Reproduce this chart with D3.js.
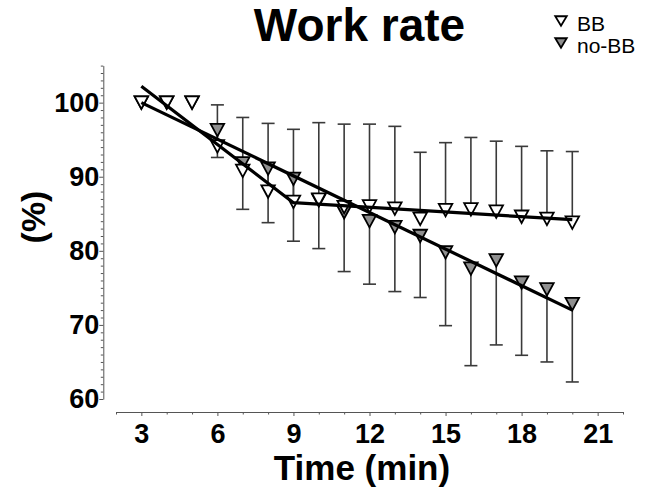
<!DOCTYPE html>
<html>
<head>
<meta charset="utf-8">
<script src="https://cdn.jsdelivr.net/npm/d3@7"></script>
<style>
  html, body { margin: 0; padding: 0; background: #fff; }
  svg { display: block; }
  text { font-family: "Liberation Sans", Arial, Helvetica, sans-serif; }
</style>
</head>
<body>
<svg id="chart" width="652" height="490"></svg>
<script>
// ---- data ----
const times = [3,4,5,6,7,8,9,10,11,12,13,14,15,16,17,18,19,20];
const bbMean = [100,100,100,94.1,90.8,88.0,86.6,86.9,85.9,86.0,85.7,84.3,85.5,85.6,85.3,84.6,84.3,83.8];
const bbUpper = [null,null,null,99.7,98.0,97.2,96.4,97.3,97.1,97.1,96.8,93.3,94.6,95.3,94.8,94.1,93.5,93.4];
const noBbMean = [100,100,100,96.3,91.8,91.1,89.7,86.8,85.2,84.0,83.2,82.0,79.8,77.6,78.7,75.7,74.8,72.8];
const noBbLower = [null,null,null,92.6,85.6,83.8,81.3,80.3,77.2,75.5,74.5,73.7,69.9,64.5,67.3,65.9,65.0,62.3];
const bbFitX = [3,9,20];
const bbFitY = [102.2,86.5,84.2];
const noBbFitX = [3,20];
const noBbFitY = [100.0,72.0];
const xTicks = [3,6,9,12,15,18,21];
const yTicks = [60,70,80,90,100];
const seriesNames = ["BB","no-BB"];
const seriesFills = ["#ffffff","#8f8f8f"];

// ---- scales ----
const svg = d3.select("#chart");
const x = d3.scaleLinear().domain([2,22]).range([116,623]);
const y = d3.scaleLinear().domain([60,105]).range([399,65.6]);
const yAxisX = 103.3, xAxisY = 412;

// ---- axes ----
const axisColor = "#555";
const yMinor = d3.range(60,106,1).filter(v => v % 10 !== 0);
const gyMinor = svg.append("g").attr("transform",`translate(${yAxisX},0)`)
  .call(d3.axisLeft(y).tickValues(yMinor).tickSize(2.5).tickFormat(""));
gyMinor.select(".domain").remove();
gyMinor.selectAll("line").attr("stroke",axisColor);
const gy = svg.append("g").attr("transform",`translate(${yAxisX},0)`)
  .call(d3.axisLeft(y).tickValues(yTicks).tickSizeInner(4).tickSizeOuter(0).tickPadding(0).tickFormat(d3.format("d")));
gy.select(".domain").attr("stroke",axisColor);
gy.selectAll("line").attr("stroke",axisColor);
gy.selectAll("text").attr("font-size",27).attr("font-weight","bold").attr("fill","#000")
  .attr("font-family","'Liberation Sans', Arial, sans-serif");

const xMinor = d3.range(2,23,1).filter(v => v % 3 !== 0);
const gxMinor = svg.append("g").attr("transform",`translate(0,${xAxisY})`)
  .call(d3.axisBottom(x).tickValues(xMinor).tickSize(2.5).tickFormat(""));
gxMinor.select(".domain").remove();
gxMinor.selectAll("line").attr("stroke",axisColor);
const gx = svg.append("g").attr("transform",`translate(0,${xAxisY})`)
  .call(d3.axisBottom(x).tickValues(xTicks).tickSizeInner(4).tickSizeOuter(0).tickPadding(8).tickFormat(d3.format("d")));
gx.select(".domain").attr("stroke",axisColor);
gx.selectAll("line").attr("stroke",axisColor);
gx.selectAll("text").attr("font-size",27).attr("font-weight","bold").attr("fill","#000")
  .attr("font-family","'Liberation Sans', Arial, sans-serif");

// ---- error bars ----
const capW = 6.5;
const errColor = "#3a3a3a";
function drawErr(means, ends) {
  const g = svg.append("g");
  times.forEach((t,i) => {
    if (ends[i] == null) return;
    g.append("line").attr("x1",x(t)).attr("x2",x(t)).attr("y1",y(means[i])).attr("y2",y(ends[i]))
      .attr("stroke",errColor).attr("stroke-width",1.6);
    g.append("line").attr("x1",x(t)-capW).attr("x2",x(t)+capW).attr("y1",y(ends[i])).attr("y2",y(ends[i]))
      .attr("stroke",errColor).attr("stroke-width",1.6);
  });
}
drawErr(bbMean, bbUpper);
drawErr(noBbMean, noBbLower);

// ---- markers ----
function tri(cx, cy, w, h) {
  return `M${cx-w/2},${cy-h/2}L${cx+w/2},${cy-h/2}L${cx},${cy+h/2}Z`;
}
function drawMarkers(means, fill) {
  svg.append("g").selectAll("path").data(times.map((t,i)=>[t,means[i]])).join("path")
    .attr("d", d => tri(x(d[0]), y(d[1]), 13.5, 12.5))
    .attr("fill", fill).attr("stroke","#000").attr("stroke-width",1.8).attr("stroke-linejoin","miter");
}
drawMarkers(noBbMean, seriesFills[1]);
drawMarkers(bbMean, seriesFills[0]);

// ---- fit lines ----
const line = d3.line().x(d=>x(d[0])).y(d=>y(d[1]));
svg.append("path").datum(bbFitX.map((v,i)=>[v,bbFitY[i]])).attr("d",line)
  .attr("fill","none").attr("stroke","#000").attr("stroke-width",3.2).attr("stroke-linejoin","round");
svg.append("path").datum(noBbFitX.map((v,i)=>[v,noBbFitY[i]])).attr("d",line)
  .attr("fill","none").attr("stroke","#000").attr("stroke-width",3.2);

// ---- title & labels ----
svg.append("text").attr("x",359.5).attr("y",41).attr("text-anchor","middle")
  .attr("font-size",46).attr("font-weight","bold").text("Work rate");
svg.append("text").attr("transform","translate(33,217) rotate(-90)").attr("text-anchor","middle")
  .attr("dominant-baseline","central").attr("font-size",34).attr("font-weight","bold").text("(%)");
svg.append("text").attr("x",362).attr("y",480).attr("text-anchor","middle")
  .attr("font-size",35).attr("font-weight","bold").text("Time (min)");

// ---- legend ----
const leg = svg.append("g");
seriesNames.forEach((name,i) => {
  const ly = 21 + i*22;
  leg.append("path").attr("d", tri(561, ly, 11.5, 9.5)).attr("fill",seriesFills[i])
    .attr("stroke","#000").attr("stroke-width",1.8);
  leg.append("text").attr("x",577).attr("y",ly+9.5).attr("font-size",21).text(name);
});
</script>
</body>
</html>
